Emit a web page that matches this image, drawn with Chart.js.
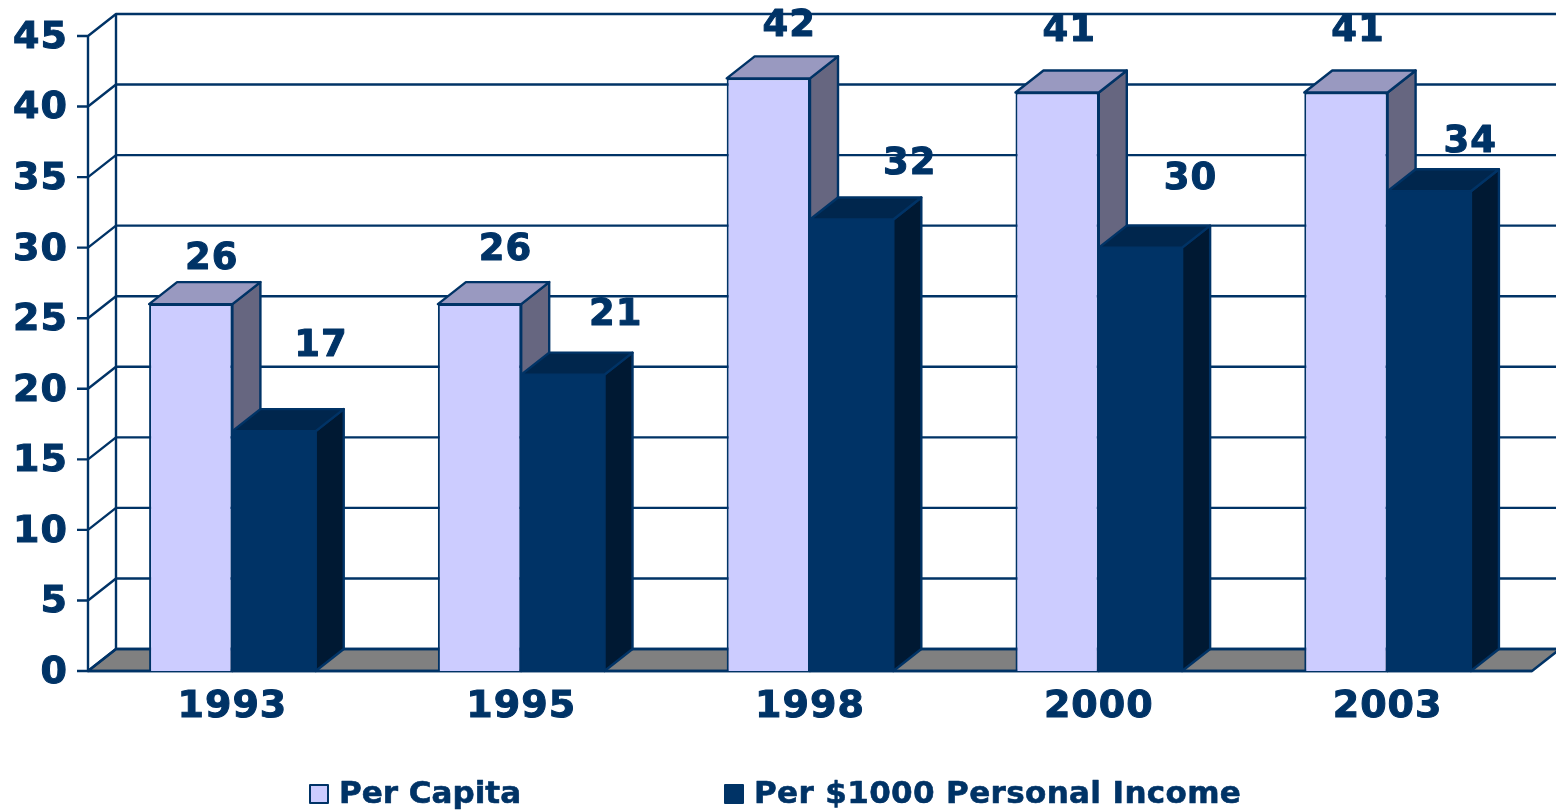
<!DOCTYPE html>
<html>
<head>
<meta charset="utf-8">
<style>
html, body { margin: 0; padding: 0; background: #fff; overflow: hidden; }
#wrap { position: relative; width: 1556px; height: 812px; }
</style>
<script src="https://cdnjs.cloudflare.com/ajax/libs/Chart.js/4.4.1/chart.umd.js"></script>
</head>
<body>
<div id="wrap"><canvas id="chart"></canvas></div>
<script>
var years = ["1993", "1995", "1998", "2000", "2003"];
var perCapita = [26, 26, 42, 41, 41];
var perIncome = [17, 21, 32, 30, 34];
var yTicks = [0, 5, 10, 15, 20, 25, 30, 35, 40, 45];

// the value labels sit at odd places in the original, so they get nudged by hand
var capitaShiftX = [21, 26, 21, 12, 12];
var capitaShiftY = [-45, -54, -52, -61, -61];
var incomeShiftX = [47, 53, 58, 50, 41];
var incomeShiftY = [-85, -59, -55, -68, -49];

var NAVY = "#003366";
var DEPTH_X = 28;
var DEPTH_Y = 22;
var LINE = 2.4;
var FONT = "DejaVu Sans";

function poly(ctx, pts, fill, stroke) {
	ctx.beginPath();
	ctx.moveTo(pts[0][0], pts[0][1]);
	for (var i = 1; i < pts.length; i++) {
		ctx.lineTo(pts[i][0], pts[i][1]);
	}
	ctx.closePath();
	ctx.fillStyle = fill;
	ctx.fill();
	ctx.strokeStyle = stroke;
	ctx.lineWidth = LINE;
	ctx.lineJoin = "round";
	ctx.stroke();
}

function drawWalls(chart) {
	var ctx = chart.ctx;
	var y = chart.scales.y;
	var area = chart.chartArea;
	var base = y.getPixelForValue(0);
	var top = y.getPixelForValue(45);

	ctx.save();
	poly(ctx, [[area.left, base], [area.left + DEPTH_X, base - DEPTH_Y], [area.right + DEPTH_X, base - DEPTH_Y], [area.right, base]], "#808080", NAVY);

	ctx.strokeStyle = NAVY;
	ctx.lineWidth = LINE;
	yTicks.forEach(function (v) {
		var py = y.getPixelForValue(v);
		ctx.beginPath();
		ctx.moveTo(area.left - 11, py);
		ctx.lineTo(area.left, py);
		ctx.lineTo(area.left + DEPTH_X, py - DEPTH_Y);
		ctx.lineTo(area.right + DEPTH_X, py - DEPTH_Y);
		ctx.stroke();
	});
	ctx.beginPath();
	ctx.moveTo(area.left, top);
	ctx.lineTo(area.left, base);
	ctx.lineTo(area.right, base);
	ctx.moveTo(area.left + DEPTH_X, top - DEPTH_Y);
	ctx.lineTo(area.left + DEPTH_X, base - DEPTH_Y);
	ctx.stroke();
	ctx.restore();
}

function drawBarFaces(chart, index, topColor, sideColor) {
	var ctx = chart.ctx;
	chart.getDatasetMeta(index).data.forEach(function (bar) {
		var l = bar.x - bar.width / 2;
		var r = bar.x + bar.width / 2;
		poly(ctx, [[r, bar.y], [r + DEPTH_X, bar.y - DEPTH_Y], [r + DEPTH_X, bar.base - DEPTH_Y], [r, bar.base]], sideColor, NAVY);
		poly(ctx, [[l, bar.y], [l + DEPTH_X, bar.y - DEPTH_Y], [r + DEPTH_X, bar.y - DEPTH_Y], [r, bar.y]], topColor, NAVY);
	});
}

function drawValues(chart, index, values, shiftX, shiftY) {
	var ctx = chart.ctx;
	ctx.save();
	ctx.font = "bold 37px '" + FONT + "'";
	ctx.fillStyle = NAVY;
	ctx.strokeStyle = NAVY;
	ctx.lineWidth = 1;
	ctx.textAlign = "center";
	ctx.textBaseline = "middle";
	chart.getDatasetMeta(index).data.forEach(function (bar, i) {
		ctx.strokeText(String(values[i]), bar.x + shiftX[i], bar.y + shiftY[i]);
		ctx.fillText(String(values[i]), bar.x + shiftX[i], bar.y + shiftY[i]);
	});
	ctx.restore();
}

function drawLegend(chart) {
	var ctx = chart.ctx;
	var boxX = [310, 725];
	ctx.save();
	ctx.font = "bold 31px '" + FONT + "'";
	ctx.textBaseline = "middle";
	chart.data.datasets.forEach(function (ds, i) {
		ctx.fillStyle = ds.backgroundColor;
		ctx.strokeStyle = NAVY;
		ctx.lineWidth = 2;
		ctx.fillRect(boxX[i], 785, 18, 18);
		ctx.strokeRect(boxX[i], 785, 18, 18);
		ctx.fillStyle = NAVY;
		ctx.lineWidth = 0.6;
		ctx.letterSpacing = i ? "0.36px" : "0px";
		ctx.strokeText(ds.label, boxX[i] + 29, 795);
		ctx.fillText(ds.label, boxX[i] + 29, 795);
	});
	ctx.restore();
}

var bars3d = {
	id: "bars3d",
	beforeDraw: function (chart) {
		// digits in the original are spaced wider than DejaVu
		chart.ctx.letterSpacing = "1px";
		// y labels sit a little lower than chart.js centres them
		chart.scales.y.getLabelItems(chart.chartArea).forEach(function (item) {
			item.options.translation[1] += 2;
		});
	},
	beforeDatasetsDraw: function (chart) {
		drawWalls(chart);
		drawBarFaces(chart, 0, "#9999C0", "#666680");
		drawBarFaces(chart, 1, "#00264D", "#001933");
	},
	afterDatasetsDraw: function (chart) {
		drawValues(chart, 0, perCapita, capitaShiftX, capitaShiftY);
		drawValues(chart, 1, perIncome, incomeShiftX, incomeShiftY);
		drawLegend(chart);
	}
};

new Chart(document.getElementById("chart"), {
	type: "bar",
	data: {
		labels: years,
		datasets: [
			{ label: "Per Capita", data: perCapita, backgroundColor: "#CCCCFF", borderColor: NAVY, borderWidth: 2 },
			{ label: "Per $1000 Personal Income", data: perIncome, backgroundColor: NAVY, borderWidth: 0 }
		]
	},
	plugins: [bars3d],
	options: {
		responsive: true,
		maintainAspectRatio: false,
		animation: false,
		clip: false,
		categoryPercentage: 0.577,
		barPercentage: 1,
		layout: { padding: { top: 36, right: 24, left: 0, bottom: 0 } },
		plugins: { legend: { display: false }, tooltip: { enabled: false } },
		scales: {
			x: {
				grid: { display: false },
				border: { display: false },
				afterFit: function (axis) { axis.height = 141; },
				ticks: { color: NAVY, padding: 5, textStrokeColor: NAVY, textStrokeWidth: 1, font: { family: FONT, size: 38, weight: "bold" }, maxRotation: 0 }
			},
			y: {
				min: 0,
				max: 45,
				grid: { display: false },
				border: { display: false },
				afterFit: function (axis) { axis.width = 88; },
				afterBuildTicks: function (axis) {
					axis.ticks = yTicks.map(function (v) { return { value: v }; });
				},
				ticks: { color: NAVY, padding: 12, textStrokeColor: NAVY, textStrokeWidth: 1, font: { family: FONT, size: 38, weight: "bold" } }
			}
		}
	}
});
</script>
</body>
</html>
